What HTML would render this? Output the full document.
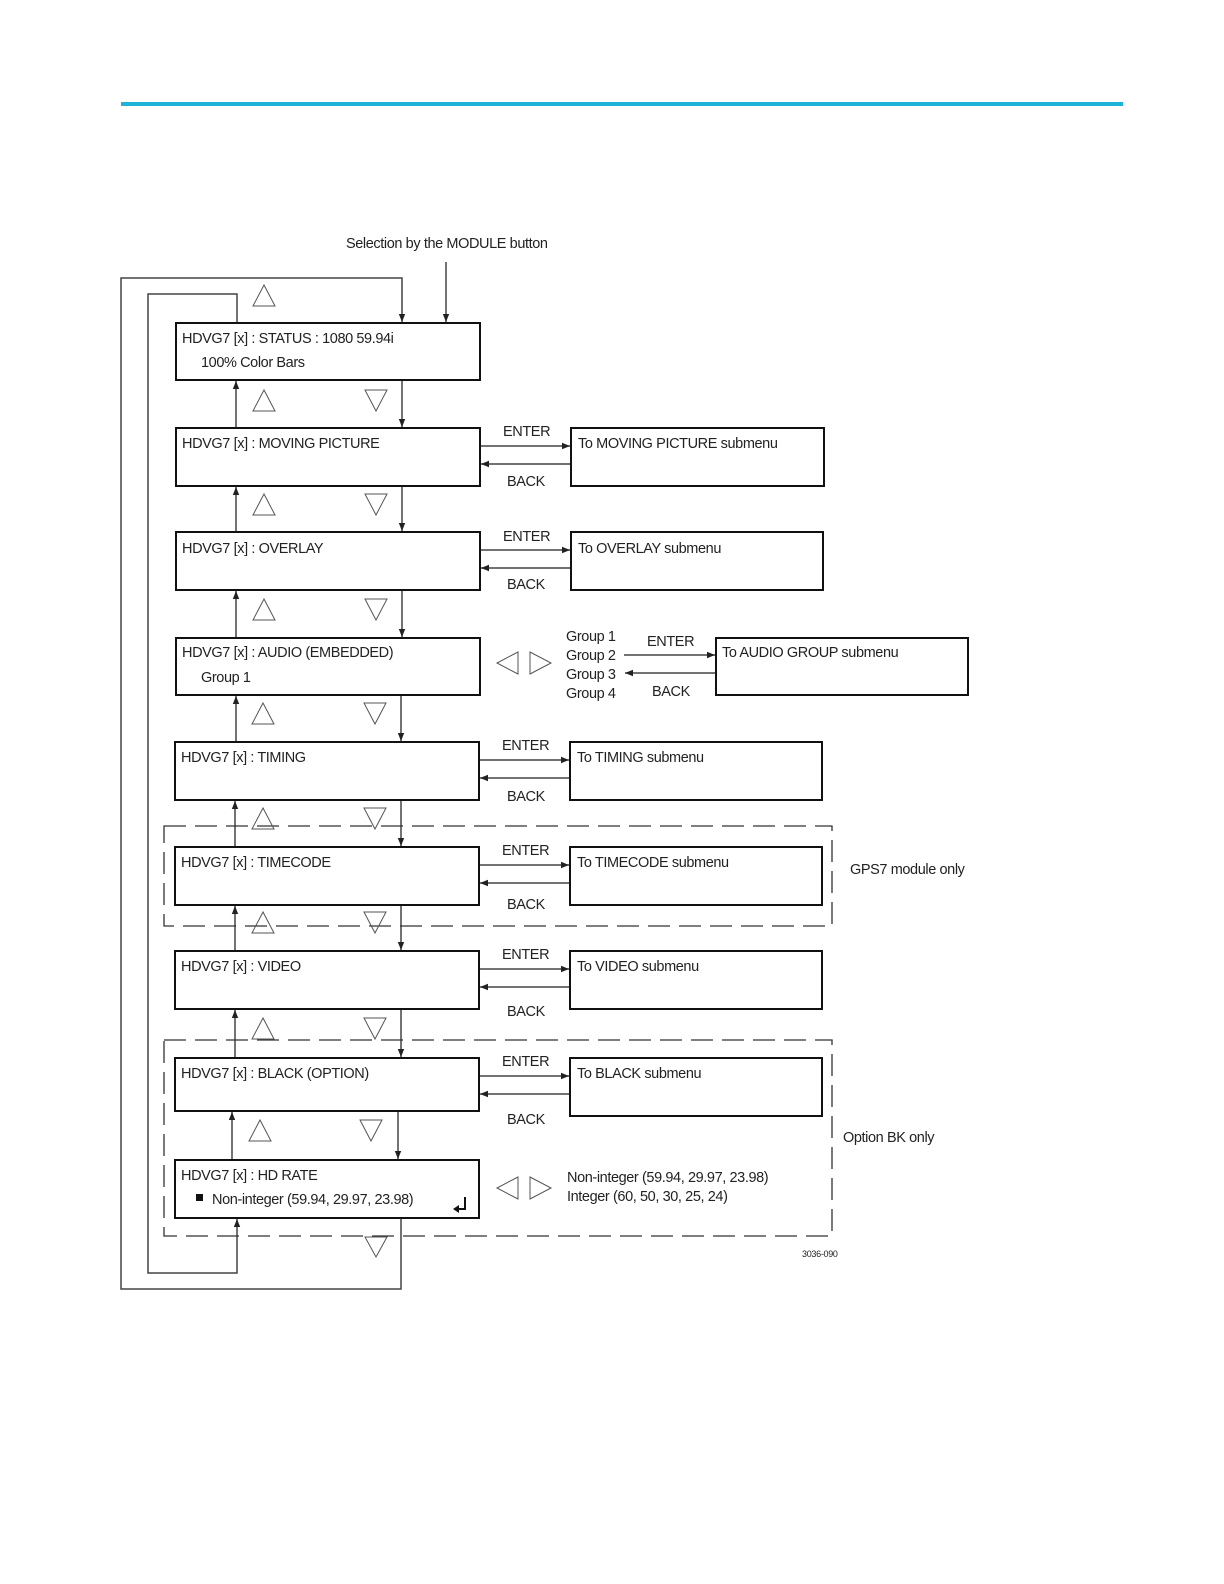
<!DOCTYPE html>
<html><head><meta charset="utf-8">
<style>
html,body{margin:0;padding:0;background:#fff;}
svg{display:block;}
text{font-family:"Liberation Sans",sans-serif;font-size:14.5px;fill:#222;letter-spacing:-0.4px;}
</style></head>
<body>
<svg width="1224" height="1584" viewBox="0 0 1224 1584" xmlns="http://www.w3.org/2000/svg">
<defs>
<marker id="a" viewBox="0 0 10 10" refX="10" refY="5" markerWidth="8" markerHeight="8" orient="auto" markerUnits="userSpaceOnUse">
<path d="M0,1 L10,5 L0,9 Z" fill="#222"/></marker>
</defs>
<rect x="121" y="102" width="1002" height="4" fill="#1fb3d5"/>

<g stroke="#444" stroke-width="1.5" fill="none">
<!-- outer loops -->
<polyline points="401,1218 401,1289 121,1289 121,278 402,278 402,322" marker-end="url(#a)"/>
<polyline points="237,323 237,294 148,294 148,1273 237,1273 237,1219" marker-end="url(#a)"/>
<line x1="446" y1="262" x2="446" y2="322" marker-end="url(#a)"/>
<!-- vertical connectors -->
<line x1="236" y1="428" x2="236" y2="381" marker-end="url(#a)"/>
<line x1="402" y1="380" x2="402" y2="427" marker-end="url(#a)"/>
<line x1="236" y1="532" x2="236" y2="487" marker-end="url(#a)"/>
<line x1="402" y1="486" x2="402" y2="531" marker-end="url(#a)"/>
<line x1="236" y1="638" x2="236" y2="591" marker-end="url(#a)"/>
<line x1="402" y1="590" x2="402" y2="637" marker-end="url(#a)"/>
<line x1="236" y1="742" x2="236" y2="696" marker-end="url(#a)"/>
<line x1="401" y1="695" x2="401" y2="741" marker-end="url(#a)"/>
<line x1="235" y1="847" x2="235" y2="801" marker-end="url(#a)"/>
<line x1="401" y1="800" x2="401" y2="846" marker-end="url(#a)"/>
<line x1="235" y1="951" x2="235" y2="906" marker-end="url(#a)"/>
<line x1="401" y1="905" x2="401" y2="950" marker-end="url(#a)"/>
<line x1="235" y1="1058" x2="235" y2="1010" marker-end="url(#a)"/>
<line x1="401" y1="1009" x2="401" y2="1057" marker-end="url(#a)"/>
<line x1="232" y1="1160" x2="232" y2="1112" marker-end="url(#a)"/>
<line x1="398" y1="1111" x2="398" y2="1159" marker-end="url(#a)"/>
<!-- enter/back -->
<line x1="480" y1="446" x2="570" y2="446" marker-end="url(#a)"/><line x1="571" y1="464" x2="481" y2="464" marker-end="url(#a)"/>
<line x1="480" y1="550" x2="570" y2="550" marker-end="url(#a)"/><line x1="571" y1="568" x2="481" y2="568" marker-end="url(#a)"/>
<line x1="624" y1="655" x2="715" y2="655" marker-end="url(#a)"/><line x1="716" y1="673" x2="625" y2="673" marker-end="url(#a)"/>
<line x1="479" y1="760" x2="569" y2="760" marker-end="url(#a)"/><line x1="570" y1="778" x2="480" y2="778" marker-end="url(#a)"/>
<line x1="479" y1="865" x2="569" y2="865" marker-end="url(#a)"/><line x1="570" y1="883" x2="480" y2="883" marker-end="url(#a)"/>
<line x1="479" y1="969" x2="569" y2="969" marker-end="url(#a)"/><line x1="570" y1="987" x2="480" y2="987" marker-end="url(#a)"/>
<line x1="479" y1="1076" x2="569" y2="1076" marker-end="url(#a)"/><line x1="570" y1="1094" x2="480" y2="1094" marker-end="url(#a)"/>
</g>

<!-- dashed regions -->
<g stroke="#333" stroke-width="1.3" fill="none" stroke-dasharray="22,9">
<rect x="164" y="826" width="668" height="100"/>
<rect x="164" y="1040" width="668" height="196"/>
</g>

<!-- boxes -->
<g stroke="#111" stroke-width="2" fill="#fff">
<rect x="176" y="323" width="304" height="57"/>
<rect x="176" y="428" width="304" height="58"/>
<rect x="176" y="532" width="304" height="58"/>
<rect x="176" y="638" width="304" height="57"/>
<rect x="175" y="742" width="304" height="58"/>
<rect x="175" y="847" width="304" height="58"/>
<rect x="175" y="951" width="304" height="58"/>
<rect x="175" y="1058" width="304" height="53"/>
<rect x="175" y="1160" width="304" height="58"/>
<rect x="571" y="428" width="253" height="58"/>
<rect x="571" y="532" width="252" height="58"/>
<rect x="716" y="638" width="252" height="57"/>
<rect x="570" y="742" width="252" height="58"/>
<rect x="570" y="847" width="252" height="58"/>
<rect x="570" y="951" width="252" height="58"/>
<rect x="570" y="1058" width="252" height="58"/>
</g>

<!-- outline triangles -->
<g stroke="#555" stroke-width="1" fill="none">
<path d="M264,285 L253,306 L275,306 Z"/>
<path d="M264,390 L253,411 L275,411 Z"/><path d="M365,390 L387,390 L376,411 Z"/>
<path d="M264,494 L253,515 L275,515 Z"/><path d="M365,494 L387,494 L376,515 Z"/>
<path d="M264,599 L253,620 L275,620 Z"/><path d="M365,599 L387,599 L376,620 Z"/>
<path d="M263,703 L252,724 L274,724 Z"/><path d="M364,703 L386,703 L375,724 Z"/>
<path d="M263,808 L252,829 L274,829 Z"/><path d="M364,808 L386,808 L375,829 Z"/>
<path d="M263,912 L252,933 L274,933 Z"/><path d="M364,912 L386,912 L375,933 Z"/>
<path d="M263,1018 L252,1039 L274,1039 Z"/><path d="M364,1018 L386,1018 L375,1039 Z"/>
<path d="M260,1120 L249,1141 L271,1141 Z"/><path d="M360,1120 L382,1120 L371,1141 Z"/>
<path d="M365,1237 L387,1237 L376,1257 Z"/>
<path d="M518,652 L497,663 L518,674 Z"/><path d="M530,652 L551,663 L530,674 Z"/>
<path d="M518,1177 L497,1188 L518,1199 Z"/><path d="M530,1177 L551,1188 L530,1199 Z"/>
</g>

<!-- text -->
<text x="346" y="248">Selection by the MODULE button</text>
<text x="182" y="343">HDVG7 [x] : STATUS : 1080 59.94i</text>
<text x="201" y="367">100% Color Bars</text>
<text x="182" y="448">HDVG7 [x] : MOVING PICTURE</text>
<text x="182" y="553">HDVG7 [x] : OVERLAY</text>
<text x="182" y="657">HDVG7 [x] : AUDIO (EMBEDDED)</text>
<text x="201" y="682">Group 1</text>
<text x="181" y="762">HDVG7 [x] : TIMING</text>
<text x="181" y="867">HDVG7 [x] : TIMECODE</text>
<text x="181" y="971">HDVG7 [x] : VIDEO</text>
<text x="181" y="1078">HDVG7 [x] : BLACK (OPTION)</text>
<text x="181" y="1180">HDVG7 [x] : HD RATE</text>
<rect x="196" y="1194" width="7" height="7" fill="#111"/>
<text x="212" y="1204">Non-integer  (59.94, 29.97, 23.98)</text>
<path d="M465,1197 L465,1209 L455,1209" stroke="#111" stroke-width="2" fill="none"/>
<path d="M453,1209 L459,1205 L459,1213 Z" fill="#111"/>

<text x="503" y="436">ENTER</text><text x="507" y="486">BACK</text>
<text x="503" y="541">ENTER</text><text x="507" y="589">BACK</text>
<text x="502" y="750">ENTER</text><text x="507" y="801">BACK</text>
<text x="502" y="855">ENTER</text><text x="507" y="909">BACK</text>
<text x="502" y="959">ENTER</text><text x="507" y="1016">BACK</text>
<text x="502" y="1066">ENTER</text><text x="507" y="1124">BACK</text>
<text x="647" y="646">ENTER</text><text x="652" y="696">BACK</text>
<text x="566" y="641">Group 1</text><text x="566" y="660">Group 2</text>
<text x="566" y="679">Group 3</text><text x="566" y="698">Group 4</text>

<text x="578" y="448">To MOVING PICTURE submenu</text>
<text x="578" y="553">To OVERLAY submenu</text>
<text x="722" y="657">To AUDIO GROUP submenu</text>
<text x="577" y="762">To TIMING submenu</text>
<text x="577" y="867">To TIMECODE submenu</text>
<text x="577" y="971">To VIDEO submenu</text>
<text x="577" y="1078">To BLACK submenu</text>

<text x="850" y="874">GPS7 module only</text>
<text x="843" y="1142">Option BK only</text>
<text x="567" y="1182">Non-integer  (59.94, 29.97, 23.98)</text>
<text x="567" y="1201">Integer  (60, 50, 30, 25, 24)</text>
<text x="802" y="1257" style="font-size:9px;letter-spacing:-0.3px">3036-090</text>
</svg>
</body></html>
